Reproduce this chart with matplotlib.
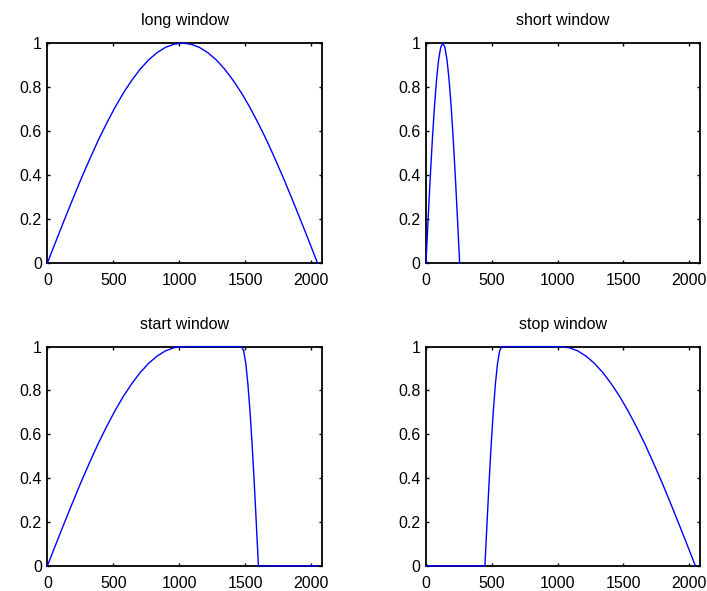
import numpy as np
from matplotlib import pyplot as plt

plt.rcParams['font.family'] = ['Liberation Sans', 'DejaVu Sans']

# sample positions (every 64 samples across a 2048-sample frame)
long_n = [0, 64, 128, 192, 256, 320, 384, 448, 512, 576, 640, 704, 768, 832, 896, 960, 1024,
          1088, 1152, 1216, 1280, 1344, 1408, 1472, 1536, 1600, 1664, 1728, 1792, 1856, 1920, 1984, 2048]
long_w = [0.0, 0.098, 0.195, 0.290, 0.383, 0.471, 0.556, 0.634, 0.707, 0.773, 0.831, 0.882, 0.924,
          0.957, 0.981, 0.995, 1.0,
          0.995, 0.981, 0.957, 0.924, 0.882, 0.831, 0.773, 0.707, 0.634, 0.556, 0.471, 0.383,
          0.290, 0.195, 0.098, 0.0]

# short window: 256 samples
short_n = [0, 16, 32, 48, 64, 80, 96, 112, 128, 144, 160, 176, 192, 208, 224, 240, 256]
short_w = [0.0, 0.195, 0.383, 0.556, 0.707, 0.831, 0.924, 0.981, 1.0,
           0.981, 0.924, 0.831, 0.707, 0.556, 0.383, 0.195, 0.0]

# start window: long rise, flat top, short fall, zeros
start_n = [0, 64, 128, 192, 256, 320, 384, 448, 512, 576, 640, 704, 768, 832, 896, 960, 1024,
           1472, 1488, 1504, 1520, 1536, 1552, 1568, 1584, 1600, 2048]
start_w = [0.0, 0.098, 0.195, 0.290, 0.383, 0.471, 0.556, 0.634, 0.707, 0.773, 0.831, 0.882, 0.924,
           0.957, 0.981, 0.995, 1.0,
           1.0, 0.981, 0.924, 0.831, 0.707, 0.556, 0.383, 0.195, 0.0, 0.0]

# stop window: zeros, short rise, flat top, long fall
stop_n = [0, 448, 464, 480, 496, 512, 528, 544, 560, 576,
          1024, 1088, 1152, 1216, 1280, 1344, 1408, 1472, 1536, 1600, 1664, 1728, 1792, 1856, 1920, 1984, 2048]
stop_w = [0.0, 0.0, 0.195, 0.383, 0.556, 0.707, 0.831, 0.924, 0.981, 1.0,
          1.0, 0.995, 0.981, 0.957, 0.924, 0.882, 0.831, 0.773, 0.707, 0.634, 0.556, 0.471, 0.383,
          0.290, 0.195, 0.098, 0.0]

titles = ['long window', 'short window', 'start window', 'stop window']
series = [(long_n, long_w), (short_n, short_w), (start_n, start_w), (stop_n, stop_w)]

fig = plt.figure(figsize=(7.07, 5.91), dpi=100)
boxes = [[0.067, 0.555, 0.389, 0.372],
         [0.6025, 0.555, 0.388, 0.372],
         [0.067, 0.0425, 0.389, 0.371],
         [0.6025, 0.0425, 0.388, 0.371]]

for box, title, (n, w) in zip(boxes, titles, series):
    ax = fig.add_axes(box)
    # draw the curve over the frame so the zero / one stretches stay visible
    ax.plot(n, w, color=(0, 0, 1), lw=1.0, zorder=5, clip_on=False)
    ax.set_xlim(0, 2085)
    ax.set_ylim(0, 1)
    ax.set_xticks([0, 500, 1000, 1500, 2000])
    ax.set_yticks([0, 0.2, 0.4, 0.6, 0.8, 1])
    ax.set_yticklabels(['0', '0.2', '0.4', '0.6', '0.8', '1'])
    ax.tick_params(direction='in', top=True, right=True, length=2.5, width=1,
                   labelsize=11.5, colors='black')
    ax.tick_params(axis='x', pad=7)
    ax.tick_params(axis='y', pad=4)
    for s in ax.spines.values():
        s.set_linewidth(1.3)
    ax.set_title(title, fontsize=11.5, pad=13)

fig.savefig('out.png', dpi=100)
